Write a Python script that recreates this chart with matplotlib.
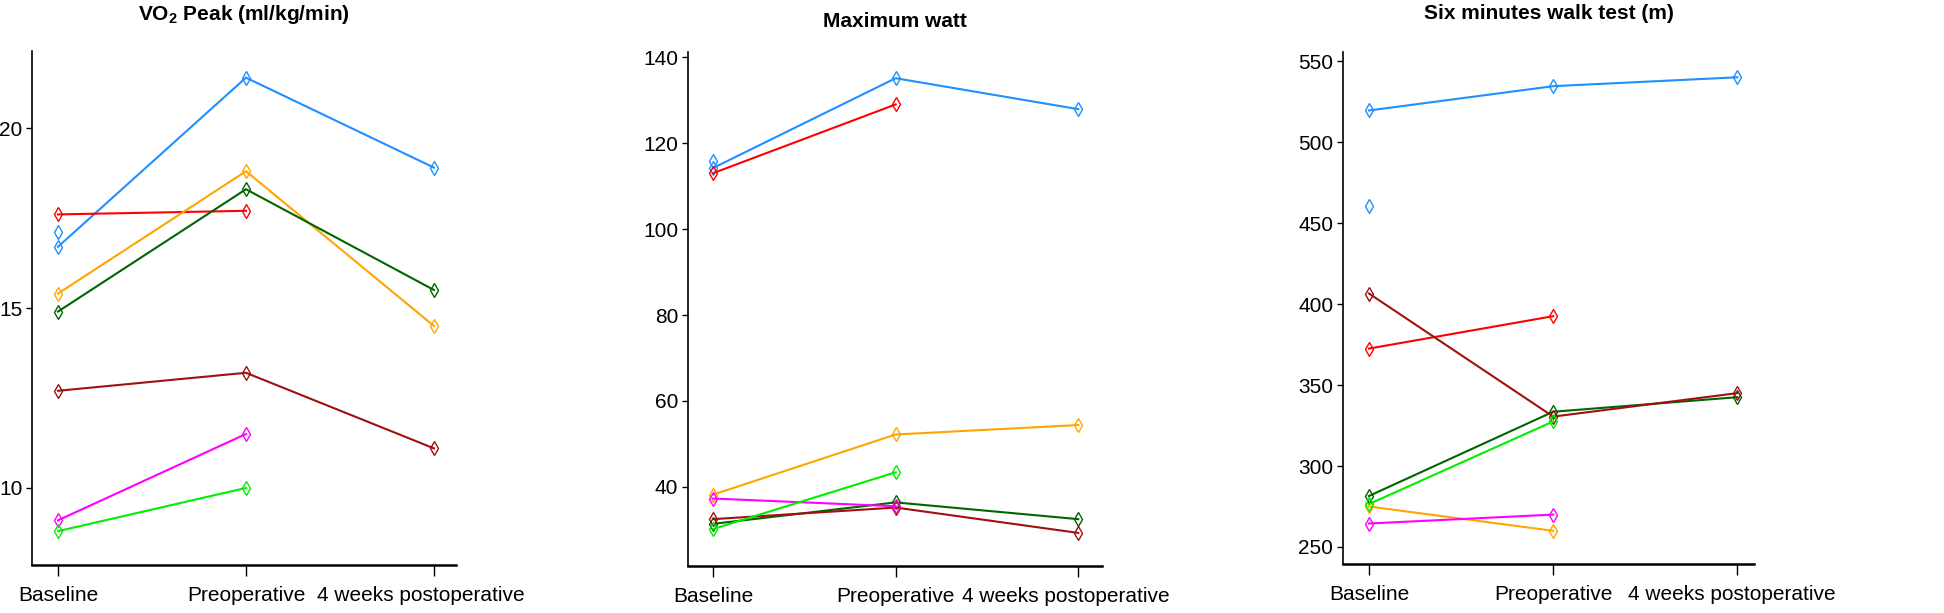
import numpy as np
import matplotlib
matplotlib.use("Agg")
from matplotlib import pyplot as plt
import matplotlib.transforms as mtransforms

plt.rcParams['font.family'] = ['Liberation Sans', 'DejaVu Sans']
plt.rcParams['mathtext.fontset'] = 'custom'
plt.rcParams['mathtext.rm'] = 'Liberation Sans:bold'
plt.rcParams['mathtext.bf'] = 'Liberation Sans:bold'

# time points
timepoints = ["Baseline", "Preoperative", "4 weeks postoperative"]

# one colour per subject (blue appears twice: second one only has baseline)
subject_colors = ["#1E90FF", "#1E90FF", "#FF0000", "#FFA500", "#006400",
                  "#A01010", "#FF00FF", "#00EE00"]

nan = np.nan

# VO2 peak (ml/kg/min)
vo2_blue = [16.7, 21.4, 18.9]
vo2_blue2 = [17.1, nan, nan]
vo2_red = [17.6, 17.7, nan]
vo2_orange = [15.4, 18.8, 14.5]
vo2_darkgreen = [14.9, 18.3, 15.5]
vo2_brown = [12.7, 13.2, 11.1]
vo2_magenta = [9.1, 11.5, nan]
vo2_green = [8.8, 10.0, nan]

# maximum watt
watt_blue = [114.2, 135.1, 127.9]
watt_blue2 = [115.8, nan, nan]
watt_red = [113.0, 129.0, nan]
watt_orange = [38.2, 52.2, 54.4]
watt_darkgreen = [31.4, 36.4, 32.5]
watt_brown = [32.5, 35.2, 29.3]
watt_magenta = [37.3, 35.5, nan]
watt_green = [30.2, 43.4, nan]

# six minutes walk test (m)
walk_blue = [519.5, 534.5, 540.0]
walk_blue2 = [460.5, nan, nan]
walk_red = [372.5, 392.5, nan]
walk_orange = [275.0, 260.0, nan]
walk_darkgreen = [281.5, 333.5, 342.5]
walk_brown = [406.5, 330.5, 345.0]
walk_magenta = [264.5, 270.0, nan]
walk_green = [276.5, 327.5, nan]

panels = [
    ("VO$_\\mathbf{2}$ Peak (ml/kg/min)",
     [vo2_blue, vo2_blue2, vo2_red, vo2_orange, vo2_darkgreen, vo2_brown, vo2_magenta, vo2_green],
     [10, 15, 20], (7.86, 22.14), 22),
    ("Maximum watt",
     [watt_blue, watt_blue2, watt_red, watt_orange, watt_darkgreen, watt_brown, watt_magenta, watt_green],
     [40, 60, 80, 100, 120, 140], (21.6, 141.2), 18),
    ("Six minutes walk test (m)",
     [walk_blue, walk_blue2, walk_red, walk_orange, walk_darkgreen, walk_brown, walk_magenta, walk_green],
     [250, 300, 350, 400, 450, 500, 550], (239.5, 555.6), 24),
]

# axes boxes in pixels: left, right, top, bottom, xlim, shift of last x label (px)
boxes = [(32, 456, 51, 565, (0.862, 3.117), -13),
         (688, 1102, 52, 566, (0.863, 3.13), -12),
         (1343, 1754, 52, 564, (0.859, 3.09), -6)]

W, H = 1944, 613
fig = plt.figure(figsize=(W / 100, H / 100), dpi=100)

x = np.arange(1, 4)
for (title, series, yticks, ylim, tpad), (l, r, t, b, xlim, shift) in zip(panels, boxes):
    ax = fig.add_axes([l / W, (H - b) / H, (r - l) / W, (b - t) / H])
    for vals, c in zip(series, subject_colors):
        ax.plot(x, vals, color=c, lw=1.5, marker='d', ms=7.5, mfc='none', mec=c, mew=1.0)
    ax.set_xlim(*xlim)
    ax.set_ylim(*ylim)
    ax.set_yticks(yticks)
    ax.set_xticks(x)
    ax.set_xticklabels(timepoints)
    ax.spines['top'].set_visible(False)
    ax.spines['right'].set_visible(False)
    ax.spines['left'].set_linewidth(1.2)
    ax.spines['bottom'].set_linewidth(1.8)
    ax.tick_params(axis='y', labelsize=15, length=4, pad=3, width=1)
    ax.tick_params(axis='x', labelsize=15, length=8, pad=7, width=1)
    ax.set_title(title, fontsize=15, fontweight='bold', pad=tpad)
    # last label sits slightly left of its tick
    last = ax.get_xticklabels()[-1]
    last.set_transform(last.get_transform() + mtransforms.ScaledTranslation(shift / 100, 0, fig.dpi_scale_trans))

fig.savefig("out.png", dpi=100)
